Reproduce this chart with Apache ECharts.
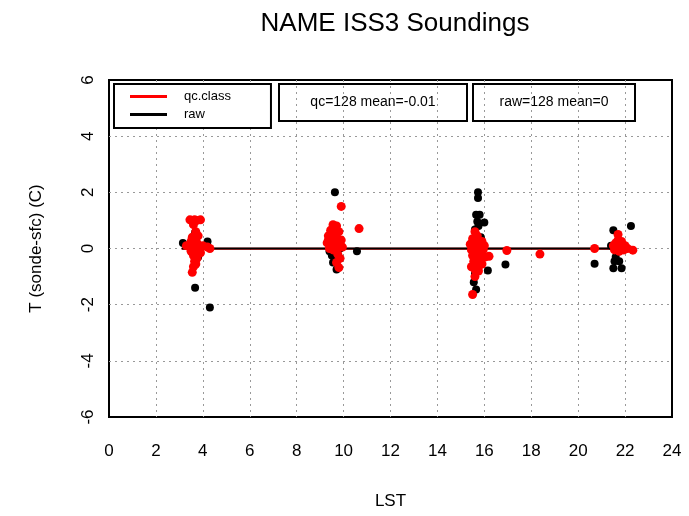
<!DOCTYPE html>
<html>
<head>
<meta charset="utf-8">
<script src="https://cdn.jsdelivr.net/npm/echarts@6/dist/echarts.min.js"></script>
<style>
  html, body { margin: 0; padding: 0; background: #fff; }
  #chart { width: 689px; height: 516px; }
</style>
</head>
<body>
<div id="chart"></div>
<script>
// sonde - surface temperature difference vs local time
const xTicks = [0, 24, 2]
const yTicks = [-6, 6, 2]

const qcPoints = [
  [3.45, 1.02], [3.55, 1.0], [3.65, 1.02], [3.75, 1.0], [3.9, 1.02], [3.6, 0.85], [3.7, 0.6],
  [3.8, 0.45], [3.55, 0.4], [3.65, 0.3], [3.75, 0.2], [3.3, 0.1], [3.45, 0.05], [3.6, 0.15],
  [3.85, 0.05], [4.0, 0.1], [4.2, 0.05], [4.3, 0.0], [3.5, -0.1], [3.7, -0.05], [3.9, -0.15],
  [3.6, -0.25], [3.75, -0.35], [3.65, -0.45], [3.7, -0.55], [3.6, -0.65], [3.55, -0.85],
  [3.8, -0.2], [3.5, 0.25],
  [9.55, 0.85], [9.7, 0.8], [9.45, 0.65], [9.6, 0.55], [9.8, 0.6], [9.35, 0.45], [9.5, 0.35],
  [9.7, 0.4], [9.9, 0.3], [9.3, 0.2], [9.45, 0.15], [9.6, 0.25], [9.8, 0.1], [9.95, 0.05],
  [9.4, 0.0], [9.55, -0.05], [9.75, -0.2], [9.85, -0.35], [9.7, -0.5], [9.8, -0.68], [9.9, 1.5],
  [10.66, 0.71], [9.35, 0.3], [9.65, 0.05],
  [15.6, 0.6], [15.7, 0.45], [15.5, 0.35], [15.75, 0.3], [15.9, 0.25], [15.4, 0.15], [15.55, 0.1],
  [15.7, 0.15], [15.85, 0.05], [16.0, 0.1], [15.45, -0.05], [15.6, -0.1], [15.8, -0.15],
  [15.95, -0.05], [15.5, -0.25], [15.65, -0.3], [15.85, -0.35], [16.05, -0.3], [15.55, -0.45],
  [15.7, -0.5], [15.9, -0.55], [15.45, -0.65], [15.6, -0.75], [15.75, -0.8], [15.6, -1.0],
  [15.5, -1.64], [16.2, -0.28], [16.96, -0.07], [18.37, -0.2], [15.75, -0.65],
  [20.7, 0.0], [21.7, 0.5], [22.33, -0.06], [21.5, 0.1], [21.6, 0.2], [21.7, 0.3], [21.8, 0.15],
  [21.9, 0.05], [22.0, 0.1], [21.55, -0.05], [21.65, 0.0], [21.75, -0.1], [21.85, 0.25],
  [21.95, -0.05], [22.1, 0.0]
]

const rawPoints = [
  [3.15, 0.2], [3.67, 0.57], [3.7, 0.45], [4.2, 0.25], [3.67, -1.4], [4.3, -2.1], [3.5, 0.0],
  [3.8, -0.3], [3.6, 0.1],
  [9.63, 2.0], [10.57, -0.1], [9.7, -0.75], [9.5, -0.25], [9.65, -0.3], [9.4, -0.1], [9.85, 0.0],
  [9.55, -0.5], [9.75, -0.4],
  [15.73, 2.0], [15.73, 1.8], [15.65, 1.2], [15.8, 1.2], [15.7, 0.96], [16.0, 0.93], [15.6, 0.68],
  [16.9, -0.57], [16.15, -0.78], [15.55, -1.2], [15.65, -1.46], [15.75, 0.8], [15.6, -0.9],
  [15.85, 0.4],
  [20.7, -0.54], [22.25, 0.8], [21.5, 0.65], [21.55, -0.45], [21.75, -0.45], [21.5, -0.7],
  [21.85, -0.7], [21.6, -0.3], [21.4, 0.1]
]

// running mean lines
const qcMean = [[3.1, -0.01], [22.4, -0.01]]
const rawMean = [[3.1, 0], [22.4, 0]]

const qcLabel = 'qc=128 mean=-0.01'
const rawLabel = 'raw=128 mean=0'

const font = 'Liberation Sans, Arial, sans-serif'

const chart = echarts.init(document.getElementById('chart'))

const statBox = (x, y, w, h, text) => ({
  type: 'group',
  left: x,
  top: y,
  z: 100,
  children: [
    {
      type: 'rect',
      shape: { x: 0, y: 0, width: w, height: h },
      style: { fill: '#fff', stroke: '#000', lineWidth: 2 }
    },
    {
      type: 'text',
      x: w / 2,
      y: h / 2,
      style: { text: text, fill: '#000', font: '14px ' + font, align: 'center', verticalAlign: 'middle' }
    }
  ]
})

const gridLine = { show: true, showMinLine: false, showMaxLine: false, lineStyle: { color: '#999', type: [2, 4], width: 1 } }

const option = {
  animation: false,
  backgroundColor: '#fff',
  title: {
    text: 'NAME ISS3 Soundings',
    left: 390,
    top: 6,
    textAlign: 'center',
    textStyle: { fontFamily: font, fontSize: 26, fontWeight: 'normal', color: '#000' }
  },
  grid: {
    left: 109,
    right: 17,
    top: 80,
    bottom: 99,
    show: true,
    borderColor: '#000',
    borderWidth: 2,
    backgroundColor: 'transparent'
  },
  legend: {
    left: 114,
    top: 84,
    orient: 'vertical',
    itemWidth: 37,
    itemHeight: 3,
    itemGap: 5,
    padding: [6, 40, 7, 16],
    backgroundColor: '#fff',
    borderColor: '#000',
    borderWidth: 2,
    z: 100,
    selectedMode: false,
    textStyle: { fontFamily: font, fontSize: 13, color: '#000', padding: [0, 0, 0, 12] },
    data: [
      { name: 'qc.class', icon: 'rect', itemStyle: { color: '#ff0000' } },
      { name: 'raw', icon: 'rect', itemStyle: { color: '#000' } }
    ]
  },
  xAxis: {
    type: 'value',
    min: xTicks[0],
    max: xTicks[1],
    interval: xTicks[2],
    name: 'LST',
    nameLocation: 'middle',
    nameGap: 76,
    nameTextStyle: { fontFamily: font, fontSize: 17, color: '#000' },
    axisLine: { show: false },
    axisTick: { show: false },
    axisLabel: { fontFamily: font, fontSize: 17, color: '#000', margin: 26 },
    splitLine: gridLine
  },
  yAxis: {
    type: 'value',
    min: yTicks[0],
    max: yTicks[1],
    interval: yTicks[2],
    name: 'T (sonde-sfc) (C)',
    nameLocation: 'middle',
    nameGap: 64,
    nameTextStyle: { fontFamily: font, fontSize: 17, color: '#000' },
    axisLine: { show: false },
    axisTick: { show: false },
    axisLabel: { fontFamily: font, fontSize: 17, color: '#000', rotate: 90, margin: 12 },
    splitLine: gridLine
  },
  graphic: [
    statBox(278, 83, 188, 37, qcLabel),
    statBox(472, 83, 162, 37, rawLabel)
  ],
  series: [
    {
      name: 'qc.class',
      type: 'line',
      data: qcMean,
      symbol: 'none',
      lineStyle: { color: '#ff0000', width: 2 },
      z: 1
    },
    {
      name: 'raw',
      type: 'line',
      data: rawMean,
      symbol: 'none',
      lineStyle: { color: '#000', width: 2 },
      z: 2
    },
    {
      name: 'raw',
      type: 'scatter',
      data: rawPoints,
      symbolSize: 8,
      itemStyle: { color: '#000', opacity: 1 },
      z: 3
    },
    {
      name: 'qc.class',
      type: 'scatter',
      data: qcPoints,
      symbolSize: 9,
      itemStyle: { color: '#ff0000', opacity: 1 },
      z: 4
    }
  ]
}

chart.setOption(option)
</script>
</body>
</html>
